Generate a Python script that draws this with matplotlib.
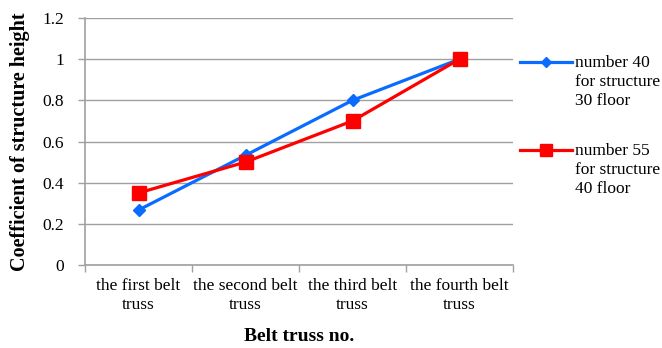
import matplotlib.pyplot as plt
from matplotlib.lines import Line2D
import numpy as np

categories = ['the first belt\ntruss', 'the second belt\ntruss',
              'the third belt\ntruss', 'the fourth belt\ntruss']
blue_vals = [0.267, 0.533, 0.8, 1.0]
red_vals = [0.35, 0.5, 0.7, 1.0]
blue_name = 'number 40\nfor structure\n30 floor'
red_name = 'number 55\nfor structure\n40 floor'

plt.rcParams['font.family'] = ['Liberation Serif', 'DejaVu Serif']

BLUE = '#0a6cff'
RED = '#ff0000'
GREY = '#a0a0a0'

fig = plt.figure(figsize=(6.62, 3.48), dpi=100)
W, H = 662.0, 348.0
ax = fig.add_axes([85 / W, 1 - 265 / H, 428 / W, 247 / H])

x = np.arange(len(categories))
ax.plot(x, blue_vals, color=BLUE, lw=2.3, marker='D', ms=6.5, zorder=3)
ax.plot(x, red_vals, color=RED, lw=2.3, marker='s', ms=9.5, zorder=4)

ax.set_xlim(-0.5, 3.5)
ax.set_ylim(0, 1.2)
ax.set_yticks(np.arange(0, 1.21, 0.2))
ax.set_yticklabels(['0', '0.2', '0.4', '0.6', '0.8', '1', '1.2'])
ax.yaxis.grid(True, color=GREY, lw=1)
ax.set_axisbelow(True)

# category labels centred, tick marks on the boundaries
ax.set_xticks(x)
ax.set_xticklabels(categories, fontsize=12.5, linespacing=1.3)
ax.tick_params(axis='x', length=0, pad=9)
ax.set_xticks(np.arange(-0.5, 4, 1), minor=True)
ax.tick_params(axis='x', which='minor', length=5, color=GREY, width=1)
ax.tick_params(axis='y', length=5, color=GREY, width=1, labelsize=12.5, pad=10)

for s in ['top', 'right']:
    ax.spines[s].set_visible(False)
for s in ['left', 'bottom']:
    ax.spines[s].set_color(GREY)
    ax.spines[s].set_linewidth(1.2)

ax.set_ylabel('Coefficient of structure height', fontsize=14.5,
              fontweight='bold', labelpad=9)
ax.set_xlabel('Belt truss no.', fontsize=14, fontweight='bold', labelpad=11)

# legend on the right, handle level with the first text line
for y, c, m, ms, name in [(61.5, BLUE, 'D', 5, blue_name),
                          (149.5, RED, 's', 8.5, red_name)]:
    fig.add_artist(Line2D([520 / W, 572 / W], [1 - y / H] * 2, color=c,
                          lw=2.3, transform=fig.transFigure))
    fig.add_artist(Line2D([546 / W], [1 - y / H], color=c, marker=m, ms=ms,
                          transform=fig.transFigure))
    fig.text(575 / W, 1 - (y - 6.5) / H, name, fontsize=12.5, va='top',
             ha='left', linespacing=1.27)

fig.savefig('out.png', dpi=100)
